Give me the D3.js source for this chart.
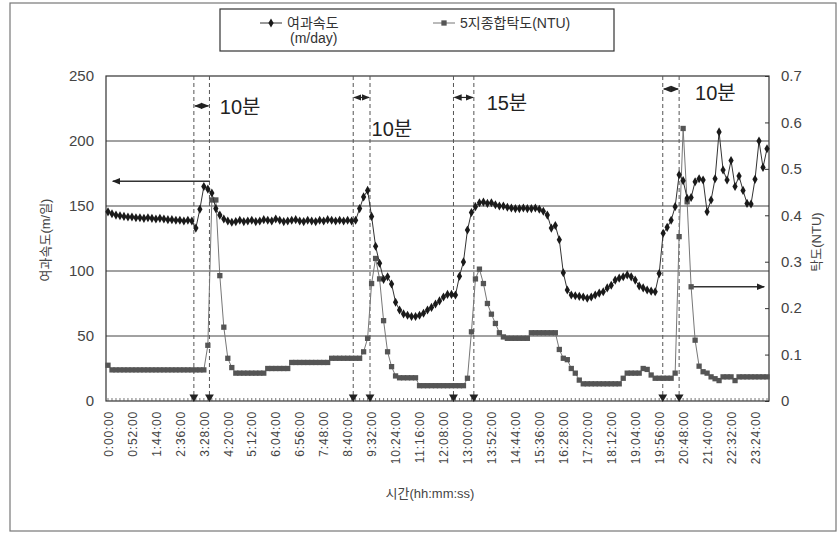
<!DOCTYPE html>
<html>
<head>
<meta charset="utf-8">
<script src="https://cdn.jsdelivr.net/npm/d3@7"></script>
<style>
  body { margin: 0; background: #fff; }
  text { font-family: "Liberation Sans", "Noto Sans CJK KR", sans-serif; }
</style>
</head>
<body>
<div id="chart"></div>
<script>
// one sample every 8 min 40 s, 166 samples over the day
const flowRate = [
  145.5, 144, 143, 142.5, 142, 141.5, 141.5, 141, 141, 140.5, 141, 140.5, 140, 140.5, 140, 139.5, 139.5, 139, 139, 138.5, 139, 138.5,
  133, 147.5, 165, 163, 160, 148, 143, 140,
  138.5, 137.5, 138, 139, 138, 138.5, 139, 138, 138.5, 139.5, 139, 138.5, 140, 139, 138, 138.5,
  139, 139.5, 138.5, 138, 139, 138.5, 138, 139, 138.5, 139.5, 139, 138.5, 139, 138.5, 139, 138.5,
  139, 148, 157, 162, 142, 119, 106, 93.6, 95.6, 90, 76, 70, 67, 66, 65, 65, 66, 67.5, 70, 72, 74.6, 77, 80, 82, 82, 81.5,
  96, 107, 131.5, 145, 149.5, 152.5, 153, 152, 152.5, 151, 150, 150, 149, 148.5, 148, 148, 148.5, 148, 148, 148.5, 147.5, 146,
  143, 133, 135, 124, 98.7, 85.4, 81.5, 81, 80.5, 80, 79, 80, 81.5, 83, 84, 87, 89, 93, 94.5, 95.6, 97, 95.5, 93, 88.5, 87, 85.4, 84.5, 84,
  98, 129, 133.6, 139, 149.5, 174, 169.5, 156, 156.5, 168.7, 171, 170, 145.6, 154.6, 171, 207, 177.7, 170, 185, 165, 173, 162,
  152, 151.5, 170.5, 200, 179.7, 194
];
const turbidity = [
  0.077,
  0.067, 0.067, 0.067, 0.067, 0.067, 0.067, 0.067, 0.067, 0.067, 0.067, 0.067, 0.067,
  0.067, 0.067, 0.067, 0.067, 0.067, 0.067, 0.067, 0.067, 0.067, 0.067, 0.067, 0.067,
  0.12, 0.433, 0.433, 0.27, 0.159, 0.092, 0.072,
  0.06, 0.06, 0.06, 0.06, 0.06, 0.06, 0.06, 0.06,
  0.07, 0.07, 0.07, 0.07, 0.07, 0.07,
  0.083, 0.083, 0.083, 0.083, 0.083, 0.083, 0.083, 0.083, 0.083, 0.083,
  0.092, 0.092, 0.092, 0.092, 0.092, 0.092, 0.092, 0.092,
  0.106, 0.135, 0.253, 0.307, 0.263, 0.173, 0.106, 0.074, 0.054,
  0.05, 0.05, 0.05, 0.05, 0.05,
  0.033, 0.033, 0.033, 0.033, 0.033, 0.033, 0.033, 0.033, 0.033, 0.033, 0.033, 0.033,
  0.049, 0.149, 0.263, 0.284, 0.253, 0.21, 0.187, 0.167, 0.147, 0.138,
  0.135, 0.135, 0.135, 0.135, 0.135, 0.135,
  0.147, 0.147, 0.147, 0.147, 0.147, 0.147, 0.147,
  0.111, 0.092, 0.089, 0.07, 0.06, 0.045,
  0.037, 0.037, 0.037, 0.037, 0.037, 0.037, 0.037, 0.037, 0.037, 0.037,
  0.049, 0.06, 0.06, 0.06, 0.06, 0.07, 0.068, 0.056,
  0.049, 0.049, 0.049, 0.049, 0.049,
  0.06, 0.354, 0.587, 0.429, 0.246, 0.131, 0.075, 0.063, 0.06, 0.052, 0.048, 0.044,
  0.052, 0.052, 0.052, 0.044,
  0.052, 0.052, 0.052, 0.052, 0.052, 0.052, 0.052, 0.052
];
const tickLabels = ["0:00:00", "0:52:00", "1:44:00", "2:36:00", "3:28:00", "4:20:00", "5:12:00",
  "6:04:00", "6:56:00", "7:48:00", "8:40:00", "9:32:00", "10:24:00", "11:16:00", "12:08:00",
  "13:00:00", "13:52:00", "14:44:00", "15:36:00", "16:28:00", "17:20:00", "18:12:00", "19:04:00",
  "19:56:00", "20:48:00", "21:40:00", "22:32:00", "23:24:00"];
const leftTicks = [0, 50, 100, 150, 200, 250];
const rightTicks = [0, 0.1, 0.2, 0.3, 0.4, 0.5, 0.6, 0.7];
// backwash start/end (sample index) and the labels above them
const washLines = [21.5, 25.4, 61.4, 65.6, 86.5, 91.6, 138.9, 143];
const washSpans = [
  {from: 21.5, to: 25.4, arrowAt: 227, label: "10분", labelIdx: 28, labelAt: 221},
  {from: 61.4, to: 65.6, arrowAt: 233.5, label: "10분", labelIdx: 66, labelAt: 204},
  {from: 86.5, to: 91.6, arrowAt: 233.5, label: "15분", labelIdx: 94.8, labelAt: 224},
  {from: 138.9, to: 143, arrowAt: 240, label: "10분", labelIdx: 147, labelAt: 231.5}
];

var margin = {top: 76, right: 68, bottom: 132, left: 106};
var width = 837 - margin.left - margin.right;
var height = 533 - margin.top - margin.bottom;

var root = d3.select("#chart").append("svg")
  .attr("width", 837).attr("height", 533);

// outer frame of the figure
root.append("rect")
  .attr("x", 10).attr("y", 3).attr("width", 826).attr("height", 528)
  .attr("fill", "none").attr("stroke", "#777").attr("stroke-width", 1.2);

var defs = root.append("defs");
defs.append("marker").attr("id", "head")
  .attr("viewBox", "0 0 10 10").attr("refX", 9).attr("refY", 5)
  .attr("markerWidth", 8).attr("markerHeight", 8).attr("orient", "auto-start-reverse")
  .attr("markerUnits", "userSpaceOnUse")
  .append("path").attr("d", "M0,1L10,5L0,9Z").attr("fill", "#222");

var svg = root.append("g")
  .attr("transform", "translate(" + margin.left + "," + margin.top + ")");

var x = d3.scaleLinear().domain([-0.5, flowRate.length - 0.5]).range([0, width]);
var yL = d3.scaleLinear().domain([0, 250]).range([height, 0]);
var yR = d3.scaleLinear().domain([0, 0.7]).range([height, 0]);

// gridlines
svg.append("g").selectAll("line")
  .data(leftTicks.slice(1, -1)).enter().append("line")
  .attr("x1", 0).attr("x2", width)
  .attr("y1", d => yL(d)).attr("y2", d => yL(d))
  .attr("stroke", "#444").attr("stroke-width", 1);

// plot frame
svg.append("rect").attr("width", width).attr("height", height)
  .attr("fill", "none").attr("stroke", "#333").attr("stroke-width", 1.2);

// left axis
var gL = svg.append("g").call(d3.axisLeft(yL).tickValues(leftTicks).tickSize(0).tickPadding(12));
gL.select(".domain").remove();
gL.selectAll("text").attr("font-size", 15).attr("fill", "#444");

// right axis
var gR = svg.append("g").attr("transform", "translate(" + width + ",0)")
  .call(d3.axisRight(yR).tickValues(rightTicks).tickSize(-4).tickPadding(12).tickFormat(d3.format("")));
gR.select(".domain").remove();
gR.selectAll("line").attr("stroke", "#333");
gR.selectAll("text").attr("font-size", 15).attr("fill", "#444");

// bottom axis with labels every 6 samples
var tickIdx = tickLabels.map((d, i) => i * 6);
var gB = svg.append("g").attr("transform", "translate(0," + height + ")")
  .call(d3.axisBottom(x).tickValues(tickIdx).tickSize(0).tickFormat((d, i) => tickLabels[i]));
gB.select(".domain").remove();
gB.selectAll("text")
  .attr("font-size", 12).attr("fill", "#444").attr("letter-spacing", 0.8)
  .attr("text-anchor", "end")
  .attr("transform", "rotate(-90)")
  .attr("x", -10).attr("y", 0).attr("dy", "0.35em");

// small marks for every sample along the bottom
svg.append("g").selectAll("line")
  .data(d3.range(flowRate.length)).enter().append("line")
  .attr("x1", d => x(d)).attr("x2", d => x(d))
  .attr("y1", height).attr("y2", height - 3)
  .attr("stroke", "#555").attr("stroke-width", 0.8);

// backwash dashed lines and triangles
svg.append("g").selectAll("line")
  .data(washLines).enter().append("line")
  .attr("x1", d => x(d)).attr("x2", d => x(d))
  .attr("y1", 0).attr("y2", height)
  .attr("stroke", "#555").attr("stroke-width", 1).attr("stroke-dasharray", "4,3");
svg.append("g").selectAll("path")
  .data(washLines).enter().append("path")
  .attr("d", d3.symbol().type(d3.symbolTriangle).size(34))
  .attr("transform", d => "translate(" + x(d) + "," + (height - 4) + ") rotate(180)")
  .attr("fill", "#222");

// span arrows and labels
washSpans.forEach(function(s) {
  svg.append("line")
    .attr("x1", x(s.from) + 1).attr("x2", x(s.to) - 1)
    .attr("y1", yL(s.arrowAt)).attr("y2", yL(s.arrowAt))
    .attr("stroke", "#222").attr("stroke-width", 1.2)
    .attr("marker-start", "url(#head)").attr("marker-end", "url(#head)");
  svg.append("text")
    .attr("x", x(s.labelIdx)).attr("y", yL(s.labelAt))
    .attr("font-size", 20).attr("fill", "#222").text(s.label);
});

// axis pointer arrows
svg.append("line")
  .attr("x1", x(25.5)).attr("x2", x(1.2))
  .attr("y1", yL(169)).attr("y2", yL(169))
  .attr("stroke", "#333").attr("stroke-width", 1.5).attr("marker-end", "url(#head)");
svg.append("line")
  .attr("x1", x(146.4)).attr("x2", x(164.3))
  .attr("y1", yR(0.246)).attr("y2", yR(0.246))
  .attr("stroke", "#333").attr("stroke-width", 1.5).attr("marker-end", "url(#head)");

// turbidity series
svg.append("path").datum(turbidity)
  .attr("fill", "none").attr("stroke", "#777").attr("stroke-width", 1)
  .attr("d", d3.line().x((d, i) => x(i)).y(d => yR(d)));
svg.append("g").selectAll("path")
  .data(turbidity).enter().append("path")
  .attr("d", d3.symbol().type(d3.symbolSquare).size(28))
  .attr("transform", (d, i) => "translate(" + x(i) + "," + yR(d) + ")")
  .attr("fill", "#555");

// filtration rate series
svg.append("path").datum(flowRate)
  .attr("fill", "none").attr("stroke", "#333").attr("stroke-width", 1)
  .attr("d", d3.line().x((d, i) => x(i)).y(d => yL(d)));
svg.append("g").selectAll("path")
  .data(flowRate).enter().append("path")
  .attr("d", d3.symbol().type(d3.symbolDiamond).size(24))
  .attr("transform", (d, i) => "translate(" + x(i) + "," + yL(d) + ")")
  .attr("fill", "#1a1a1a");

// axis titles
root.append("text")
  .attr("transform", "translate(50,240) rotate(-90)")
  .attr("text-anchor", "middle").attr("font-size", 13).attr("fill", "#444")
  .text("여과속도(m/일)");
root.append("text")
  .attr("transform", "translate(821,242) rotate(-90)")
  .attr("text-anchor", "middle").attr("font-size", 13).attr("fill", "#444")
  .text("탁도(NTU)");
root.append("text")
  .attr("x", 430).attr("y", 498)
  .attr("text-anchor", "middle").attr("font-size", 13).attr("fill", "#444")
  .text("시간(hh:mm:ss)");

// legend
var lg = root.append("g");
lg.append("rect").attr("x", 220).attr("y", 9).attr("width", 394).attr("height", 42)
  .attr("fill", "#fff").attr("stroke", "#333").attr("stroke-width", 1.2);
lg.append("line").attr("x1", 260).attr("x2", 282).attr("y1", 23).attr("y2", 23)
  .attr("stroke", "#333");
lg.append("path").attr("d", d3.symbol().type(d3.symbolDiamond).size(24))
  .attr("transform", "translate(271,23)").attr("fill", "#1a1a1a");
lg.append("text").attr("x", 287).attr("y", 28).attr("font-size", 14).attr("fill", "#333").text("여과속도");
lg.append("text").attr("x", 290).attr("y", 43).attr("font-size", 14).attr("fill", "#333").text("(m/day)");
lg.append("line").attr("x1", 433).attr("x2", 455).attr("y1", 23).attr("y2", 23)
  .attr("stroke", "#777");
lg.append("path").attr("d", d3.symbol().type(d3.symbolSquare).size(28))
  .attr("transform", "translate(444,23)").attr("fill", "#555");
lg.append("text").attr("x", 460).attr("y", 28).attr("font-size", 14).attr("fill", "#333").text("5지종합탁도(NTU)");
</script>
</body>
</html>
